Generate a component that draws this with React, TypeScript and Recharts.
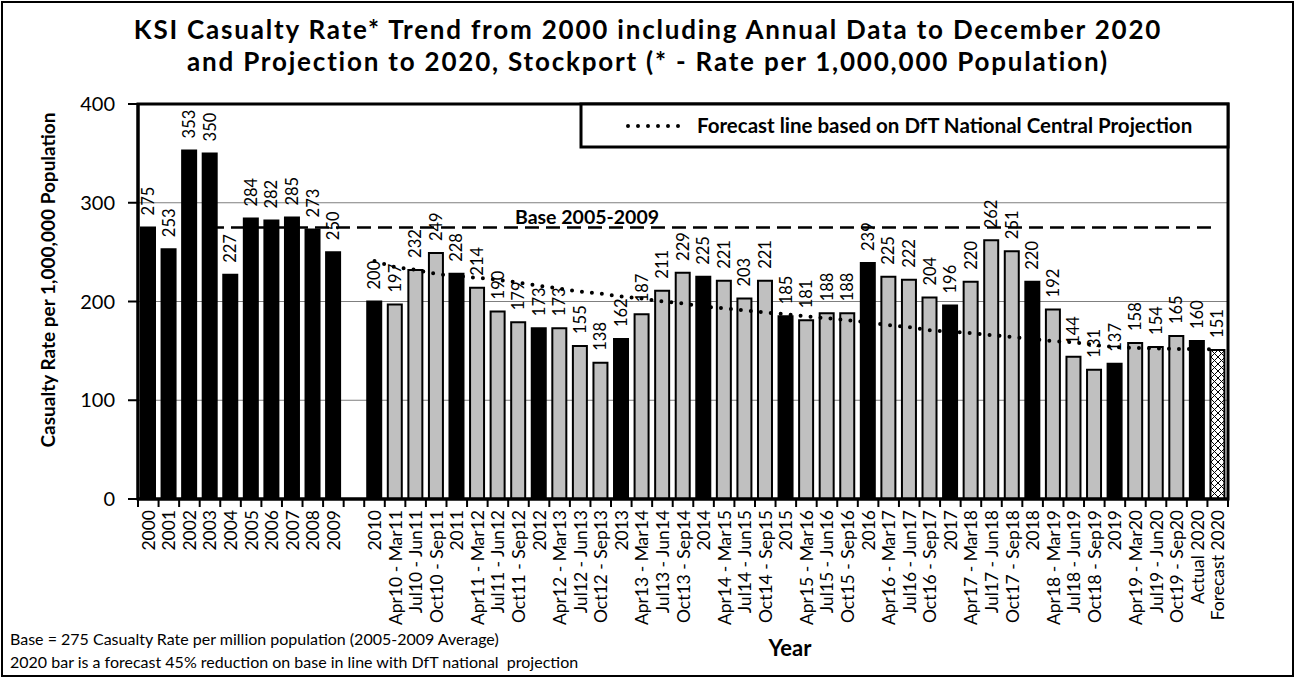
import React from 'react';
import { ComposedChart, Bar, Line, XAxis, YAxis, CartesianGrid, Cell, LabelList } from 'recharts';

const categories: string[] = [
  '2000', '2001', '2002', '2003', '2004', '2005', '2006', '2007', '2008', '2009', '',
  '2010', 'Apr10 - Mar11', 'Jul10 - Jun11', 'Oct10 - Sep11',
  '2011', 'Apr11 - Mar12', 'Jul11 - Jun12', 'Oct11 - Sep12',
  '2012', 'Apr12 - Mar13', 'Jul12 - Jun13', 'Oct12 - Sep13',
  '2013', 'Apr13 - Mar14', 'Jul13 - Jun14', 'Oct13 - Sep14',
  '2014', 'Apr14 - Mar15', 'Jul14 - Jun15', 'Oct14 - Sep15',
  '2015', 'Apr15 - Mar16', 'Jul15 - Jun16', 'Oct15 - Sep16',
  '2016', 'Apr16 - Mar17', 'Jul16 - Jun17', 'Oct16 - Sep17',
  '2017', 'Apr17 - Mar18', 'Jul17 - Jun18', 'Oct17 - Sep18',
  '2018', 'Apr18 - Mar19', 'Jul18 - Jun19', 'Oct18 - Sep19',
  '2019', 'Apr19 - Mar20', 'Jul19 - Jun20', 'Oct19 - Sep20',
  'Actual 2020', 'Forecast 2020',
];

const casualtyRate: (number | null)[] = [
  275, 253, 353, 350, 227, 284, 282, 285, 273, 250, null,
  200, 197, 232, 249,
  228, 214, 190, 179,
  173, 173, 155, 138,
  162, 187, 211, 229,
  225, 221, 203, 221,
  185, 181, 188, 188,
  239, 225, 222, 204,
  196, 220, 262, 251,
  220, 192, 144, 131,
  137, 158, 154, 165,
  160, 151,
];

const forecastLine: (number | null)[] = [
  null, null, null, null, null, null, null, null, null, null, null,
  241, 235, 232, 228,
  226, 224, 222, 219,
  216, 213, 210, 208,
  205, 203, 200, 198,
  195, 193, 191, 189,
  187, 185, 183, 181,
  179, 176, 174, 171,
  169.5, 168, 166, 164,
  162, 160, 158.5, 156,
  154, 153, 152.5, 152,
  152, 151,
];

const baseLine: (number | null)[] = categories.map((_, i) => (i >= 3 ? 275 : null));

const yTicks = [0, 100, 200, 300, 400];

const data = categories.map((name, i) => ({
  name,
  value: casualtyRate[i],
  forecast: forecastLine[i],
  base: baseLine[i],
}));

const kindOf = (name: string) => {
  if (name.startsWith('Forecast')) return 'forecast';
  if (/^\d/.test(name) || name.startsWith('Actual')) return 'year';
  return 'rolling';
};

const FONT = 'Lato, "DejaVu Sans", sans-serif';
const W = 1295;
const H = 678;
const PLOT_L = 138;
const PLOT_R = 1228;
const PLOT_T = 104;
const PLOT_B = 499;
const BAND = (PLOT_R - PLOT_L) / categories.length;

const XTick = (props: any) => {
  const { x, y, payload, index } = props;
  const ty = y + 11;
  return (
    <g>
      <line x1={x - BAND / 2} x2={x - BAND / 2} y1={y} y2={y + 8} stroke="#000" strokeWidth={2} />
      {index === categories.length - 1 && (
        <line x1={x + BAND / 2} x2={x + BAND / 2} y1={y} y2={y + 8} stroke="#000" strokeWidth={2} />
      )}
      <text
        x={x}
        y={ty}
        transform={`rotate(-90, ${x}, ${ty})`}
        textAnchor="end"
        dominantBaseline="central"
        fontSize={17.5}
        fontFamily={FONT}
        fill="#000"
      >
        {payload.value}
      </text>
    </g>
  );
};

const BarLabel = (props: any) => {
  const { x, y, width, value } = props;
  if (value === null || value === undefined) return null;
  const cx = Number(x) + Number(width) / 2;
  const ty = Number(y) - 12;
  return (
    <text
      x={cx}
      y={ty}
      transform={`rotate(-90, ${cx}, ${ty})`}
      textAnchor="start"
      dominantBaseline="central"
      fontSize={16.5}
      fontFamily={FONT}
      fill="#000"
    >
      {value}
    </text>
  );
};

export default function App() {
  return (
    <div style={{ position: 'relative', width: W, height: H, background: '#fff' }}>
      <style>{`body{margin:0;}`}</style>
      <ComposedChart
        width={W}
        height={H}
        data={data}
        margin={{ top: PLOT_T, right: W - PLOT_R, left: 0, bottom: 0 }}
        barCategoryGap={0}
      >
        <defs>
          <pattern id="hatch" width="7" height="7" patternUnits="userSpaceOnUse">
            <rect width="7" height="7" fill="#fff" />
            <path d="M0,0 L7,7 M7,0 L0,7" stroke="#000" strokeWidth={1} />
          </pattern>
        </defs>
        <CartesianGrid vertical={false} stroke="#7f7f7f" strokeWidth={1} />
        <XAxis
          dataKey="name"
          interval={0}
          height={H - PLOT_B}
          tick={<XTick />}
          tickLine={false}
          tickSize={0}
          tickMargin={0}
          axisLine={{ stroke: '#000', strokeWidth: 3 }}
        />
        <YAxis
          width={PLOT_L}
          domain={[0, 400]}
          ticks={yTicks}
          interval={0}
          tickSize={10}
          tickMargin={13}
          tickLine={{ stroke: '#000', strokeWidth: 2 }}
          axisLine={{ stroke: '#000', strokeWidth: 3 }}
          tick={{ fontSize: 20, fontFamily: FONT, fill: '#000' }}
        />
        <Bar dataKey="value" barSize={14} isAnimationActive={false}>
          {data.map((d, i) => {
            const k = kindOf(d.name);
            const fill = k === 'year' ? '#000' : k === 'rolling' ? '#c0c0c0' : 'url(#hatch)';
            return <Cell key={i} fill={fill} stroke="#000" strokeWidth={2} />;
          })}
          <LabelList dataKey="value" content={<BarLabel />} />
        </Bar>
        <Line
          dataKey="base"
          type="linear"
          stroke="#000"
          strokeWidth={2.5}
          strokeDasharray="14 7"
          dot={false}
          activeDot={false}
          isAnimationActive={false}
        />
        <Line
          dataKey="forecast"
          type="monotone"
          stroke="#000"
          strokeWidth={4}
          strokeDasharray="0 10"
          strokeLinecap="round"
          dot={false}
          activeDot={false}
          isAnimationActive={false}
        />
      </ComposedChart>
      <svg
        width={W}
        height={H}
        style={{ position: 'absolute', left: 0, top: 0, pointerEvents: 'none' }}
        fontFamily={FONT}
      >
        <rect x={2} y={2} width={W - 4} height={H - 4} fill="none" stroke="#000" strokeWidth={2} />
        <rect x={PLOT_L} y={PLOT_T} width={PLOT_R - PLOT_L} height={PLOT_B - PLOT_T} fill="none" stroke="#000" strokeWidth={3} />
        <text x={648} y={39} textAnchor="middle" fontSize={26} letterSpacing={1.8} fontWeight="bold" fill="#000">
          KSI Casualty Rate* Trend from 2000 including Annual Data to December 2020
        </text>
        <text x={648} y={71} textAnchor="middle" fontSize={26} letterSpacing={1.8} fontWeight="bold" fill="#000">
          and Projection to 2020, Stockport (* - Rate per 1,000,000 Population)
        </text>
        <rect x={581} y={104} width={PLOT_R - 581} height={43} fill="#fff" stroke="#000" strokeWidth={3} />
        <line x1={628} x2={688} y1={126} y2={126} stroke="#000" strokeWidth={4} strokeDasharray="0 10" strokeLinecap="round" />
        <text x={697} y={133} fontSize={20.5} fontWeight="bold" fill="#000">
          Forecast line based on DfT National Central Projection
        </text>
        <text x={587} y={224} textAnchor="middle" fontSize={19.5} fontWeight="bold" fill="#000">
          Base 2005-2009
        </text>
        <text
          x={47}
          y={280}
          transform="rotate(-90, 47, 280)"
          textAnchor="middle"
          dominantBaseline="central"
          fontSize={19}
          fontWeight="bold"
          fill="#000"
        >
          Casualty Rate per 1,000,000 Population
        </text>
        <text x={790} y={656} textAnchor="middle" fontSize={22} fontWeight="bold" fill="#000">
          Year
        </text>
        <text x={10} y={645} fontSize={16} fill="#000">
          Base = 275 Casualty Rate per million population (2005-2009 Average)
        </text>
        <text x={10} y={668} fontSize={16} fill="#000" style={{ whiteSpace: 'pre' }}>
          2020 bar is a forecast 45% reduction on base in line with DfT national  projection
        </text>
      </svg>
    </div>
  );
}
